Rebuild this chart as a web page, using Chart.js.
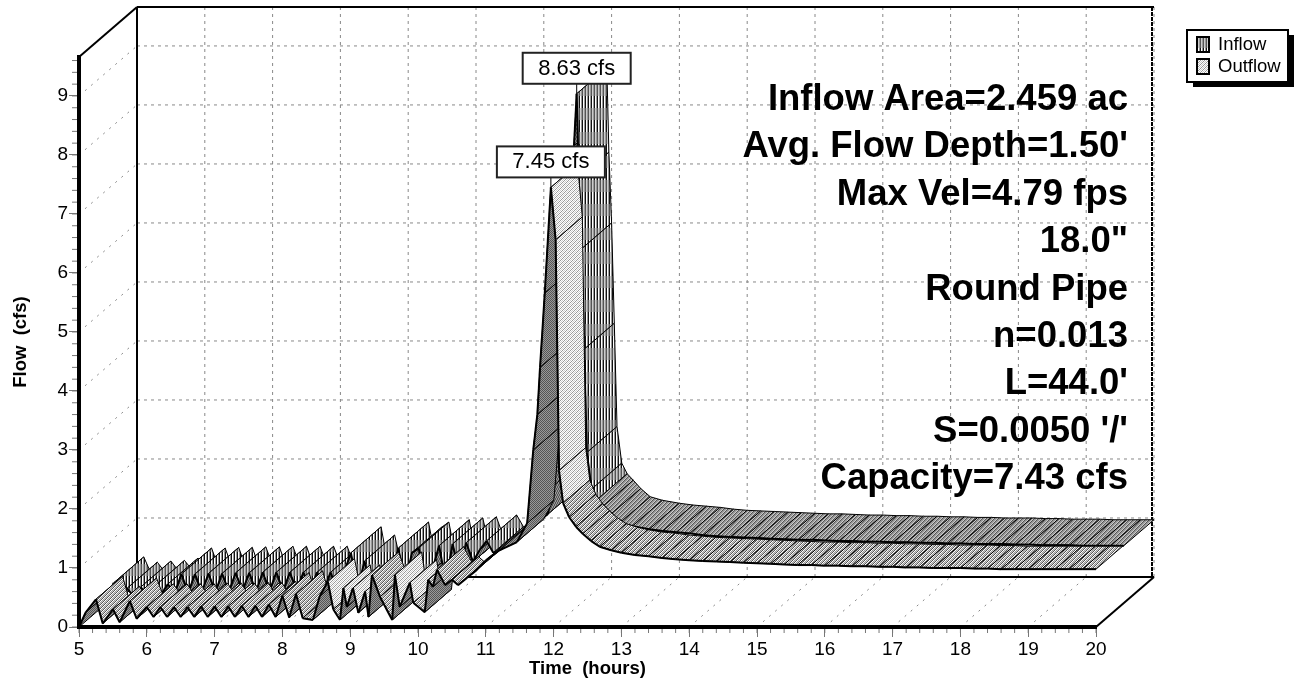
<!DOCTYPE html>
<html>
<head>
<meta charset="utf-8">
<title>Inflow / Outflow hydrograph</title>
<script src="https://cdn.jsdelivr.net/npm/chart.js@4/dist/chart.umd.min.js"></script>
<style>
  body { margin: 0; background: #fff; }
  canvas { display: block; }
</style>
</head>
<body>
<canvas id="flowChart" width="1294" height="683"></canvas>
<script>
// values
const inflowTimes = [5.0,5.1,5.2,5.3,5.4,5.5,5.6,5.7,5.8,5.9,6.0,6.1,6.2,6.3,6.4,6.5,6.6,6.7,6.8,6.9,7.0,7.1,7.2,7.3,7.4,7.5,7.6,7.7,7.8,7.9,8.0,8.1,8.2,8.3,8.4,8.5,8.6,8.7,8.8,8.9,9.0,9.1,9.2,9.3,9.4,9.5,9.6,9.7,9.8,9.9,10.0,10.1,10.2,10.3,10.4,10.5,10.6,10.7,10.8,10.9,11.0,11.1,11.2,11.3,11.4,11.5,11.6,11.7,11.8,11.85,11.89,11.93,11.96,12.0,12.04,12.08,12.15,12.23,12.32,12.43,12.57,12.75,13.0,13.2,13.4,13.6,13.8,14.0,14.2,14.4,14.6,14.8,15.0,15.2,15.4,15.6,15.8,16.0,16.2,16.4,16.6,16.8,17.0,17.2,17.4,17.6,17.8,18.0,18.2,18.4,18.6,18.8,19.0,19.2,19.4,19.6,19.8,20.0];
const inflowCfs = [0,0.34,0.08,0.25,0.10,0.27,0.12,0.28,0.14,0.32,0.16,0.49,0.17,0.49,0.18,0.50,0.18,0.50,0.19,0.51,0.20,0.51,0.19,0.52,0.20,0.52,0.20,0.52,0.21,0.52,0.22,0.52,0.21,0.52,0.20,0.52,0.85,0.22,0.71,0.20,0.50,0.22,0.32,0.93,0.32,0.85,0.93,0.32,0.55,0.97,0.35,1.00,0.50,1.02,0.70,0.90,1.05,0.85,0.90,1.00,1.10,1.20,1.30,1.38,1.42,1.50,2.00,3.50,5.20,6.50,7.75,8.63,7.20,6.00,4.30,2.55,1.93,1.75,1.64,1.50,1.36,1.30,1.25,1.22,1.20,1.18,1.15,1.13,1.12,1.11,1.10,1.09,1.08,1.07,1.07,1.06,1.05,1.05,1.04,1.04,1.03,1.03,1.02,1.02,1.01,1.01,1.00,1.00,1.00,0.99,0.99,0.98,0.98,0.98,0.97,0.97,0.97,0.97];

const outflowTimes = [5.0,5.1,5.25,5.35,5.5,5.6,5.75,5.85,6.0,6.1,6.2,6.3,6.4,6.5,6.6,6.7,6.8,6.9,7.0,7.1,7.2,7.3,7.4,7.5,7.6,7.7,7.8,7.9,8.0,8.1,8.2,8.3,8.45,8.55,8.67,8.75,8.85,8.9,8.95,9.04,9.12,9.22,9.27,9.32,9.44,9.62,9.66,9.73,9.88,9.93,10.1,10.15,10.22,10.28,10.4,10.5,10.59,10.72,10.85,11.0,11.2,11.46,11.61,11.70,11.76,11.80,11.87,11.96,12.03,12.08,12.14,12.23,12.33,12.43,12.55,12.68,12.85,13.0,13.2,13.4,13.6,13.8,14.0,14.2,14.4,14.6,14.8,15.0,15.2,15.4,15.6,15.8,16.0,16.2,16.4,16.6,16.8,17.0,17.2,17.4,17.6,17.8,18.0,18.2,18.4,18.6,18.8,19.0,19.2,19.4,19.6,19.8,20.0];
const outflowCfs = [0,0.25,0.47,0.06,0.30,0.08,0.44,0.14,0.34,0.17,0.34,0.17,0.34,0.17,0.34,0.17,0.35,0.17,0.35,0.17,0.35,0.17,0.36,0.17,0.36,0.17,0.38,0.17,0.53,0.16,0.56,0.15,0.12,0.52,0.77,0.30,0.12,0.66,0.34,0.66,0.24,0.60,0.17,0.88,0.51,0.12,0.88,0.34,0.75,0.41,0.25,0.80,0.68,0.97,0.71,0.80,0.71,0.83,0.95,1.13,1.30,1.44,1.76,3.00,3.60,4.40,5.66,7.45,6.56,2.65,2.10,1.86,1.70,1.58,1.46,1.36,1.30,1.26,1.22,1.20,1.17,1.15,1.13,1.12,1.11,1.10,1.09,1.08,1.07,1.06,1.05,1.05,1.04,1.04,1.03,1.03,1.02,1.02,1.01,1.01,1.00,1.00,1.00,0.99,0.99,0.98,0.98,0.98,0.98,0.98,0.98,0.98,0.98];

const notes = ['Inflow Area=2.459 ac', 'Avg. Flow Depth=1.50\'', 'Max Vel=4.79 fps', '18.0"', 'Round Pipe', 'n=0.013', 'L=44.0\'', 'S=0.0050 \'/\'', 'Capacity=7.43 cfs'];

const FONT = '"Liberation Sans", Arial, sans-serif';
const DEPTH_X = 58, DEPTH_Y = -50; // how far the back wall is shifted from the front

function tile(rows) {
    const c = document.createElement('canvas');
    c.width = rows[0].length;
    c.height = rows.length;
    const g = c.getContext('2d');
    const colors = { k: '#111', d: '#555', g: '#999', l: '#ccc', w: '#fff' };
    rows.forEach((row, y) => {
        [...row].forEach((ch, x) => {
            g.fillStyle = colors[ch];
            g.fillRect(x, y, 1, 1);
        });
    });
    return c;
}

const ctx = document.getElementById('flowChart').getContext('2d');
const pat = rows => ctx.createPattern(tile(rows), 'repeat');

const fills = {
    inflow: {
        rise: pat(['dgdg', 'dgdg', 'gdgd', 'gdgd']),
        steep: pat(Array(12).fill('kwg').concat(Array(12).fill('dlg'))),
        flat: pat(['dggl', 'ggld', 'gldg', 'ldgg'])
    },
    outflow: {
        rise: pat(['dgdg', 'gdgd', 'dgdg', 'gdgd']),
        steep: pat(['gwlw', 'wlwg', 'lwgw', 'wgwl']),
        flat: pat(['dwgl', 'wgld', 'gldw', 'ldwg'])
    }
};

function line(c, x0, y0, x1, y1) {
    c.beginPath();
    c.moveTo(x0, y0);
    c.lineTo(x1, y1);
    c.stroke();
}

// walls and floor of the box, from the front scales
const wallsPlugin = {
    id: 'walls',
    beforeDatasetsDraw(chart) {
        const c = chart.ctx;
        const xs = chart.scales.x, ys = chart.scales.y;
        const a = chart.chartArea;
        c.save();
        c.strokeStyle = '#888';
        c.lineWidth = 1;
        ys.ticks.forEach(t => {
            const y = ys.getPixelForValue(t.value);
            c.setLineDash([3, 4]);
            if (t.value > 0) line(c, a.left + DEPTH_X, y + DEPTH_Y, a.right + DEPTH_X, y + DEPTH_Y);
            c.setLineDash([2, 6]);
            line(c, a.left, y, a.left + DEPTH_X, y + DEPTH_Y);
        });
        xs.ticks.forEach(t => {
            const x = xs.getPixelForValue(t.value);
            c.setLineDash([3, 4]);
            line(c, x + DEPTH_X, a.top + DEPTH_Y, x + DEPTH_X, a.bottom + DEPTH_Y);
            c.setLineDash([2, 6]);
            line(c, x, a.bottom, x + DEPTH_X, a.bottom + DEPTH_Y);
        });

        c.strokeStyle = '#000';
        c.lineWidth = 2;
        c.setLineDash([]);
        line(c, a.left, a.top, a.left + DEPTH_X, a.top + DEPTH_Y);
        line(c, a.left + DEPTH_X, a.top + DEPTH_Y, a.right + DEPTH_X, a.top + DEPTH_Y);
        line(c, a.left + DEPTH_X, a.top + DEPTH_Y, a.left + DEPTH_X, a.bottom + DEPTH_Y);
        line(c, a.left + DEPTH_X, a.bottom + DEPTH_Y, a.right + DEPTH_X, a.bottom + DEPTH_Y);
        line(c, a.right, a.bottom, a.right + DEPTH_X, a.bottom + DEPTH_Y);
        c.setLineDash([4, 1]);
        line(c, a.right + DEPTH_X - 2, a.top + DEPTH_Y, a.right + DEPTH_X - 2, a.bottom + DEPTH_Y);
        c.restore();

        // minor ticks
        c.save();
        c.strokeStyle = '#777';
        c.lineWidth = 1;
        for (let v = xs.min; v < xs.max; v += 0.2) {
            const x = xs.getPixelForValue(v);
            line(c, x, a.bottom, x, a.bottom + 6);
        }
        for (let v = 0; v < ys.max; v += 0.2) {
            const y = ys.getPixelForValue(v);
            line(c, a.left - 7, y, a.left, y);
        }
        c.restore();
    }
};

// each series is a ribbon: one quad per pair of points, left to right
const ribbonPlugin = {
    id: 'ribbon',
    beforeDatasetDraw(chart, args) {
        const ds = chart.data.datasets[args.index];
        const pts = args.meta.data;
        const c = chart.ctx;
        const fx = ds.depthFrom * DEPTH_X, fy = ds.depthFrom * DEPTH_Y;
        const bx = ds.depthTo * DEPTH_X, by = ds.depthTo * DEPTH_Y;
        c.save();
        c.strokeStyle = '#000';
        c.lineJoin = 'round';
        for (let i = 0; i < pts.length - 1; i++) {
            const p = pts[i], q = pts[i + 1];
            const slope = (q.y - p.y) / Math.max(q.x - p.x, 0.01);
            const kind = slope < 0 ? 'rise' : slope > ds.steepSlope ? 'steep' : 'flat';
            c.fillStyle = ds.fills[kind];
            c.beginPath();
            c.moveTo(p.x + fx, p.y + fy);
            c.lineTo(q.x + fx, q.y + fy);
            c.lineTo(q.x + bx, q.y + by);
            c.lineTo(p.x + bx, p.y + by);
            c.closePath();
            c.fill();
            c.lineWidth = 1;
            c.stroke();
            c.lineWidth = 2;
            line(c, p.x + fx, p.y + fy, q.x + fx, q.y + fy);
        }
        c.restore();
    }
};

const labelsPlugin = {
    id: 'labels',
    afterDatasetsDraw(chart) {
        const c = chart.ctx;
        const a = chart.chartArea;
        c.save();

        // peak labels
        c.font = '22px ' + FONT;
        c.textAlign = 'center';
        c.textBaseline = 'middle';
        chart.data.datasets.forEach((ds, i) => {
            const pts = chart.getDatasetMeta(i).data;
            const vals = ds.data.map(d => d.y);
            const peak = vals.indexOf(Math.max(...vals));
            const px = pts[peak].x + ds.depthFrom * DEPTH_X;
            const py = pts[peak].y + ds.depthFrom * DEPTH_Y;
            const boxTop = py - 41;
            c.strokeStyle = '#000';
            c.lineWidth = 1;
            line(c, px, boxTop + 31, px, py);
            c.fillStyle = '#fff';
            c.fillRect(px - 54, boxTop, 108, 31);
            c.lineWidth = 2;
            c.strokeStyle = '#222';
            c.strokeRect(px - 54, boxTop, 108, 31);
            c.fillStyle = '#000';
            c.fillText(vals[peak].toFixed(2) + ' cfs', px, boxTop + 16);
        });

        // notes at the right
        c.font = 'bold 36.5px ' + FONT;
        c.textAlign = 'right';
        c.textBaseline = 'middle';
        notes.forEach((txt, i) => {
            c.fillText(txt, a.right + 32, 100 + i * 47.4);
        });

        // legend
        c.fillStyle = '#000';
        c.fillRect(1193, 35, 101, 52);
        c.fillStyle = '#fff';
        c.fillRect(1187, 30, 101, 52);
        c.strokeStyle = '#000';
        c.lineWidth = 2;
        c.strokeRect(1187, 30, 101, 52);
        c.textAlign = 'left';
        c.font = '18.5px ' + FONT;
        chart.data.datasets.forEach((ds, i) => {
            const top = 37 + i * 22;
            c.fillStyle = ds.fills.steep;
            c.fillRect(1197, top, 12, 15);
            c.strokeRect(1197, top, 12, 15);
            c.fillStyle = '#000';
            c.fillText(ds.label, 1218, top + 8);
        });
        c.restore();
    }
};

new Chart(ctx, {
    type: 'line',
    data: {
        datasets: [
            {
                label: 'Inflow',
                data: inflowTimes.map((t, i) => ({ x: t, y: inflowCfs[i] })),
                showLine: false,
                pointRadius: 0,
                order: 1,
                depthFrom: 0.48,
                depthTo: 1,
                steepSlope: 1.2,
                fills: fills.inflow
            },
            {
                label: 'Outflow',
                data: outflowTimes.map((t, i) => ({ x: t, y: outflowCfs[i] })),
                showLine: false,
                pointRadius: 0,
                order: 0,
                depthFrom: 0,
                depthTo: 0.46,
                steepSlope: 4,
                fills: fills.outflow
            }
        ]
    },
    options: {
        responsive: false,
        animation: false,
        events: [],
        layout: { padding: { top: 57, right: 198, left: 0, bottom: 0 } },
        plugins: { legend: { display: false }, tooltip: { enabled: false } },
        scales: {
            x: {
                type: 'linear',
                min: 5,
                max: 20,
                afterFit(scale) { scale.height = 56; },
                border: { color: '#000', width: 4, z: 1 },
                grid: { drawOnChartArea: false, tickLength: 10, tickColor: '#777' },
                ticks: { stepSize: 1, autoSkip: false, maxRotation: 0, padding: 1, color: '#000', font: { family: FONT, size: 19 } },
                title: { display: true, text: 'Time  (hours)', color: '#000', padding: { top: 0, bottom: 3 }, font: { family: FONT, size: 18.5, weight: 'bold' } }
            },
            y: {
                min: 0,
                max: 9.66,
                afterFit(scale) { scale.width = 79; },
                border: { color: '#000', width: 4, z: 1 },
                grid: { drawOnChartArea: false, tickLength: 10, tickColor: '#777' },
                ticks: { stepSize: 1, includeBounds: false, autoSkip: false, padding: 1, color: '#000', font: { family: FONT, size: 19 } },
                title: { display: true, text: 'Flow  (cfs)', color: '#000', padding: { top: 10, bottom: 0 }, font: { family: FONT, size: 18.5, weight: 'bold' } }
            }
        }
    },
    plugins: [wallsPlugin, ribbonPlugin, labelsPlugin]
});
</script>
</body>
</html>
